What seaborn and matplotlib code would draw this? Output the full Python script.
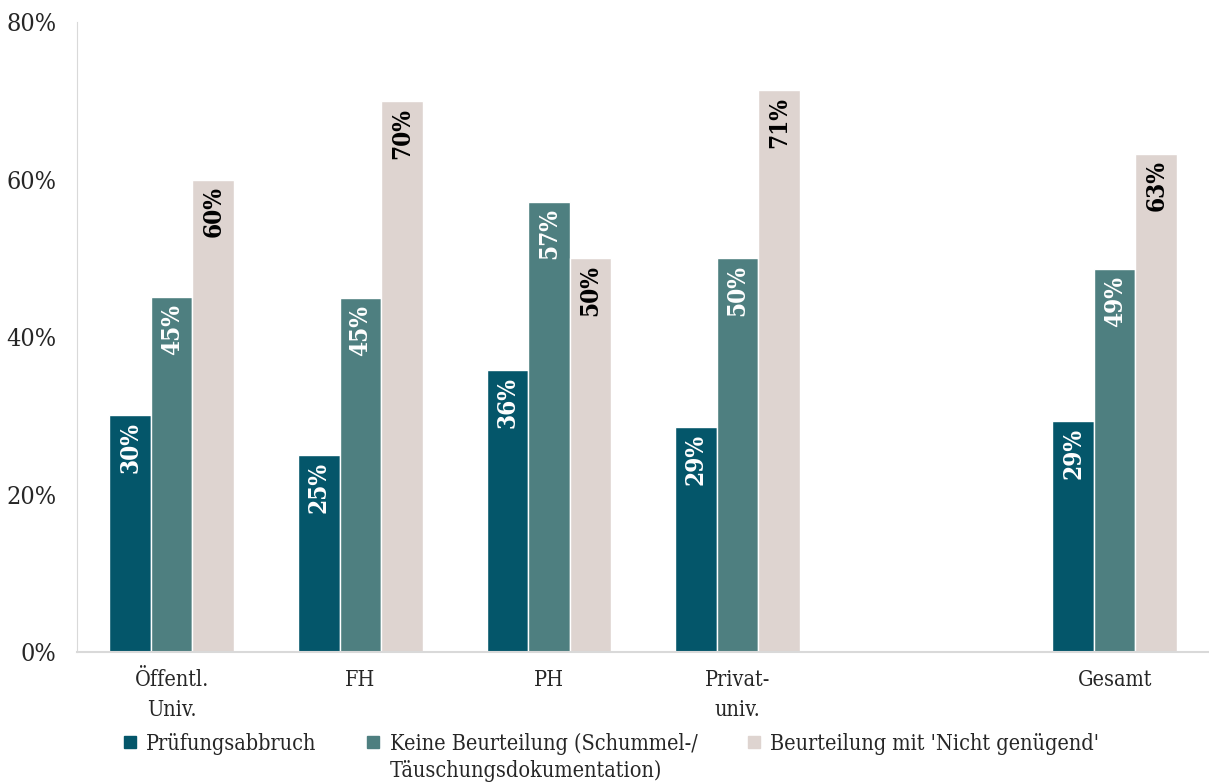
import matplotlib
matplotlib.use("Agg")
import matplotlib.pyplot as plt
import seaborn as sns
import pandas as pd
from matplotlib.lines import Line2D

# data
categories = ["Öffentl.\nUniv.", "FH", "PH", "Privat-\nuniv.", " ", "Gesamt"]
series = ["Prüfungsabbruch",
          "Keine Beurteilung (Schummel-/\nTäuschungsdokumentation)",
          "Beurteilung mit 'Nicht genügend'"]
abbruch = [30.1, 25.0, 35.8, 28.6, None, 29.4]
keine = [45.1, 45.0, 57.2, 50.0, None, 48.6]
nicht_genuegend = [60.0, 70.0, 50.0, 71.4, None, 63.3]
colors = ["#04566A", "#4E7F80", "#DED4D0"]
label_colors = ["white", "white", "black"]

rows = []
for s, vals in zip(series, [abbruch, keine, nicht_genuegend]):
    for c, v in zip(categories, vals):
        rows.append({"cat": c, "series": s, "value": v})
df = pd.DataFrame(rows)

sns.set_style("white")
plt.rcParams["font.family"] = ["DejaVu Serif"]
plt.rcParams["font.stretch"] = "condensed"

fig, ax = plt.subplots(figsize=(12.09, 7.83), dpi=100)
fig.subplots_adjust(left=0.064, right=1.0, top=0.972, bottom=0.167)

sns.barplot(data=df, x="cat", y="value", hue="series", order=categories,
            hue_order=series, palette=colors, width=0.66, saturation=1,
            edgecolor="white", linewidth=1, legend=False, ax=ax)

for cont, tc in zip(ax.containers, label_colors):
    for bar in cont:
        h = bar.get_height()
        if h != h or h == 0:
            continue
        ax.annotate(f"{h:.0f}%", (bar.get_x() + bar.get_width() / 2, h),
                    xytext=(0, -5), textcoords="offset points",
                    rotation=90, ha="center", va="top", color=tc,
                    fontsize=17.5, fontweight="bold")

ax.set_ylim(0, 80)
ax.set_xlim(-0.5, 5.5)
ax.set_yticks([0, 20, 40, 60, 80])
ax.set_yticklabels([f"{t}%" for t in [0, 20, 40, 60, 80]], fontsize=18)
ax.tick_params(axis="x", labelsize=15.5, length=0, pad=12)
ax.tick_params(axis="y", length=0, pad=15)
for lab in ax.get_xticklabels():
    lab.set_linespacing(1.45)
ax.set_xlabel("")
ax.set_ylabel("")
for side in ["top", "right"]:
    ax.spines[side].set_visible(False)
ax.spines["left"].set_color("#D9D9D9")
ax.spines["bottom"].set_color("#D9D9D9")
ax.spines["bottom"].set_linewidth(1.5)

# legend: first lines only, the wrapped second line is added below
first_lines = [s.split("\n")[0] for s in series]
handles = [Line2D([], [], marker="s", linestyle="", markersize=8,
                  markerfacecolor=c, markeredgecolor=c) for c in colors]
leg = fig.legend(handles, first_lines, loc="upper left",
                 bbox_to_anchor=(0.094, 0.075), ncol=3, frameon=False,
                 fontsize=15.5, handlelength=0.7, handletextpad=0.4,
                 columnspacing=2.3, borderaxespad=0)
fig.canvas.draw()
inv = fig.transFigure.inverted()
t = leg.get_texts()[1]
bb = t.get_window_extent()
x0, y0 = inv.transform((bb.x0, bb.y0))
fig.text(x0, y0 - 0.006, series[1].split("\n")[1], fontsize=15.5,
         ha="left", va="top")

fig.savefig("out.png", dpi=100)
